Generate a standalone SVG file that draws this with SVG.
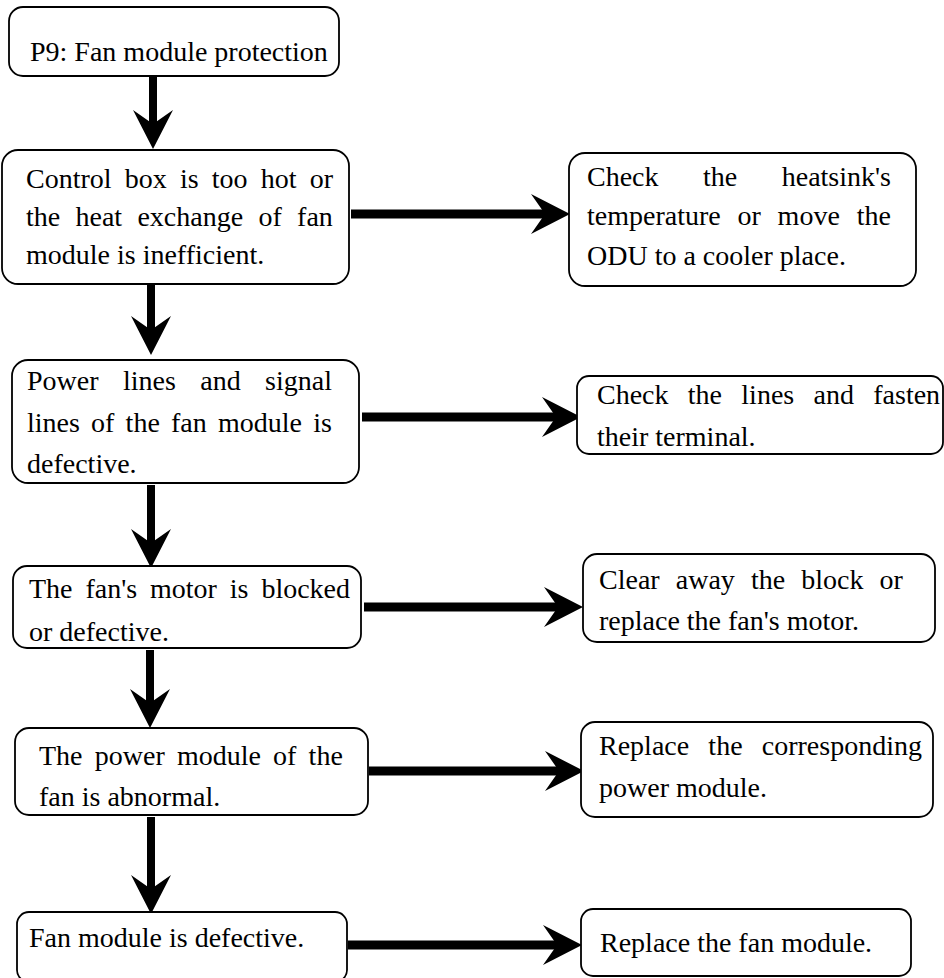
<svg xmlns="http://www.w3.org/2000/svg" width="944" height="978" viewBox="0 0 944 978">
<style>
.box{fill:#fff;stroke:#000;stroke-width:1.8}
.t{font-family:'Liberation Serif','Times New Roman',Tinos,'Nimbus Roman','DejaVu Serif',serif;font-size:28px;fill:#000}
.c{stroke:#000;fill:none}
.v{stroke-width:8}
.h{stroke-width:9}
</style>
<defs>
<marker id="ah" markerUnits="userSpaceOnUse" markerWidth="40" markerHeight="42" refX="18" refY="21" orient="auto" overflow="visible">
<path d="M0,1 L39,21 L0,41 L14,21 Z" fill="#000"/>
</marker>
</defs>
<rect width="944" height="978" fill="#fff"/>
<g id="connectors">
<line class="c v" x1="153" y1="77" x2="153" y2="128" marker-end="url(#ah)"/>
<line class="c v" x1="151" y1="285" x2="151" y2="334" marker-end="url(#ah)"/>
<line class="c v" x1="151" y1="485" x2="151" y2="547" marker-end="url(#ah)"/>
<line class="c v" x1="150" y1="650" x2="150" y2="707" marker-end="url(#ah)"/>
<line class="c v" x1="151" y1="817" x2="151" y2="893" marker-end="url(#ah)"/>
<line class="c h" x1="351" y1="214" x2="549" y2="214" marker-end="url(#ah)"/>
<line class="c h" x1="362" y1="417" x2="560" y2="417" marker-end="url(#ah)"/>
<line class="c h" x1="364" y1="607" x2="562" y2="607" marker-end="url(#ah)"/>
<line class="c h" x1="369" y1="771" x2="563" y2="771" marker-end="url(#ah)"/>
<line class="c h" x1="348" y1="945" x2="561" y2="945" marker-end="url(#ah)"/>
</g>
<g id="n-p9">
<rect class="box" x="9" y="7" width="330" height="69" rx="14"/>
<text class="t" font-family="Liberation Serif, serif" x="30" y="61">P9: Fan module protection</text>
</g>
<g id="n-hot">
<rect class="box" x="2" y="150" width="347" height="134" rx="16"/>
<text class="t" font-family="Liberation Serif, serif"><tspan x="26" y="188" word-spacing="6.2">Control box is too hot or</tspan><tspan x="26" y="226" word-spacing="8.3">the heat exchange of fan</tspan><tspan x="26" y="264">module is inefficient.</tspan></text>
</g>
<g id="n-heatsink">
<rect class="box" x="569" y="153" width="347" height="133" rx="16"/>
<text class="t" font-family="Liberation Serif, serif"><tspan x="587" y="186" word-spacing="37.5">Check the heatsink's</tspan><tspan x="587" y="225" word-spacing="9.8">temperature or move the</tspan><tspan x="587" y="265">ODU to a cooler place.</tspan></text>
</g>
<g id="n-lines">
<rect class="box" x="12" y="360" width="347" height="123" rx="16"/>
<text class="t" font-family="Liberation Serif, serif"><tspan x="27" y="390" word-spacing="17.4">Power lines and signal</tspan><tspan x="27" y="432" word-spacing="4.2">lines of the fan module is</tspan><tspan x="27" y="473">defective.</tspan></text>
</g>
<g id="n-fasten">
<rect class="box" x="577" y="376" width="366" height="78" rx="12"/>
<text class="t" font-family="Liberation Serif, serif"><tspan x="597" y="404" word-spacing="12.3">Check the lines and fasten</tspan><tspan x="597" y="446">their terminal.</tspan></text>
</g>
<g id="n-motor">
<rect class="box" x="13" y="566" width="348" height="82" rx="14"/>
<text class="t" font-family="Liberation Serif, serif"><tspan x="29" y="598" word-spacing="5.9">The fan's motor is blocked</tspan><tspan x="29" y="641">or defective.</tspan></text>
</g>
<g id="n-clear">
<rect class="box" x="583" y="554" width="352" height="88" rx="14"/>
<text class="t" font-family="Liberation Serif, serif"><tspan x="599" y="589" word-spacing="9.1">Clear away the block or</tspan><tspan x="599" y="630">replace the fan's motor.</tspan></text>
</g>
<g id="n-power">
<rect class="box" x="15" y="728" width="353" height="87" rx="14"/>
<text class="t" font-family="Liberation Serif, serif"><tspan x="39" y="765" word-spacing="5.2">The power module of the</tspan><tspan x="39" y="806">fan is abnormal.</tspan></text>
</g>
<g id="n-replace-power">
<rect class="box" x="581" y="722" width="352" height="95" rx="14"/>
<text class="t" font-family="Liberation Serif, serif"><tspan x="599" y="755" word-spacing="12.2">Replace the corresponding</tspan><tspan x="599" y="797">power module.</tspan></text>
</g>
<g id="n-fanmod">
<rect class="box" x="17" y="912" width="330" height="70" rx="12"/>
<text class="t" font-family="Liberation Serif, serif" x="29" y="947">Fan module is defective.</text>
</g>
<g id="n-replace-fan">
<rect class="box" x="581" y="909" width="330" height="67" rx="12"/>
<text class="t" font-family="Liberation Serif, serif" x="600" y="952">Replace the fan module.</text>
</g>
</svg>
